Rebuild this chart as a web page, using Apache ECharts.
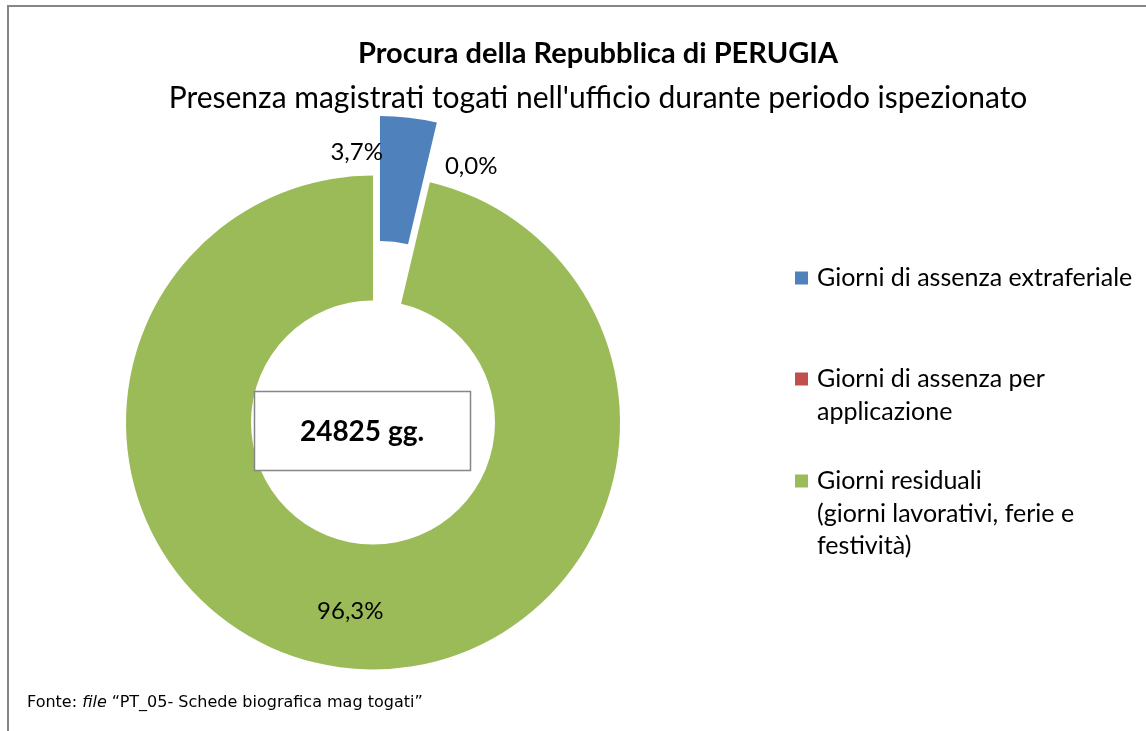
<!DOCTYPE html>
<html>
<head>
<meta charset="utf-8">
<title>Procura della Repubblica di PERUGIA</title>
<script src="https://cdn.jsdelivr.net/npm/echarts@6/dist/echarts.min.js"></script>
<style>
  html, body { margin: 0; padding: 0; background: #fff; }
  #chart { width: 1146px; height: 731px; }
</style>
</head>
<body>
<div id="chart"></div>
<script>
  // dati (giorni)
  const categories = [
    'Giorni di assenza extraferiale',
    'Giorni di assenza per\napplicazione',
    'Giorni residuali\n(giorni lavorativi, ferie e\nfestività)'
  ];
  const days = [918, 0, 23907];
  const colors = ['#4F81BD', '#C0504D', '#9BBB59'];
  const exploded = [true, false, false];
  const titleText = 'Procura della Repubblica di PERUGIA';
  const subtitleText = "Presenza magistrati togati nell'ufficio durante periodo ispezionato";

  const FONT = 'Lato, "Open Sans", sans-serif';
  const totalDays = days.reduce((a, b) => a + b, 0);

  // posizione etichette percentuali (spostamento rispetto al centro fetta)
  const labelOffsets = [[-45, -24], [55, -74], [-1, 3]];
  // legenda: centro verticale dell'icona di ogni voce
  const legendIconY = [278, 379, 481];
  const LH = 32.5;

  let chart = echarts.init(document.getElementById('chart'));

  // una legenda per voce, così l'icona resta sulla prima riga del testo
  let legends = categories.map((name, i) => {
    let n = name.split('\n').length;
    let blockH = (2 * n - 1) * LH;
    return {
      data: [name],
      orient: 'vertical',
      left: 795,
      top: legendIconY[i] - blockH / 2,
      padding: 0,
      icon: 'path://M0,0H1V1H0Z',
      itemWidth: 21,
      itemHeight: 13,
      selectedMode: false,
      formatter: nm => '\n'.repeat(n - 1) + nm,
      textStyle: {
        fontFamily: FONT,
        fontSize: 25,
        color: '#000',
        lineHeight: LH
      }
    };
  });

  chart.setOption({
    animation: false,
    backgroundColor: '#fff',
    title: {
      text: titleText,
      subtext: subtitleText,
      left: 598,
      top: 38,
      textAlign: 'center',
      itemGap: 12,
      padding: 0,
      textStyle: { fontFamily: FONT, fontSize: 29, fontWeight: 'bold', color: '#000', lineHeight: 32 },
      subtextStyle: { fontFamily: FONT, fontSize: 30, color: '#000', lineHeight: 32 }
    },
    legend: legends,
    series: [{
      type: 'pie',
      center: [373, 422.5],
      radius: [122, 247],
      startAngle: 90,
      clockwise: true,
      selectedMode: 'multiple',
      selectedOffset: 60,
      avoidLabelOverlap: false,
      emphasis: { disabled: true },
      label: {
        show: true,
        position: 'inside',
        fontFamily: FONT,
        fontSize: 24,
        color: '#000',
        formatter: p => p.percent.toFixed(1).replace('.', ',') + '%'
      },
      labelLine: { show: false },
      data: categories.map((name, i) => ({
        name: name,
        value: days[i],
        selected: exploded[i],
        itemStyle: { color: colors[i] },
        label: { offset: labelOffsets[i] },
        select: { label: { offset: labelOffsets[i] } }
      }))
    }],
    graphic: [
      {
        type: 'polyline',
        z: 0,
        shape: { points: [[8, 731], [8, 6], [1146, 6]] },
        style: { stroke: '#868686', lineWidth: 2, fill: null }
      },
      {
        type: 'rect',
        z: 100,
        shape: { x: 254.5, y: 391.5, width: 216, height: 79 },
        style: { fill: '#fff', stroke: '#868686', lineWidth: 1.5 }
      },
      {
        type: 'text',
        z: 101,
        x: 362,
        y: 432,
        style: {
          text: totalDays + ' gg.',
          font: 'bold 28px ' + FONT,
          fill: '#000',
          align: 'center',
          verticalAlign: 'middle'
        }
      },
      {
        type: 'text',
        z: 101,
        x: 27,
        y: 703,
        style: {
          text: '{a|Fonte: }{i|file}{a| “PT_05- Schede biografica mag togati”}',
          verticalAlign: 'middle',
          rich: {
            a: { fontFamily: '"DejaVu Sans", Verdana, sans-serif', fontSize: 16, fill: '#000' },
            i: { fontFamily: '"DejaVu Sans", Verdana, sans-serif', fontSize: 16, fontStyle: 'italic', fill: '#000' }
          }
        }
      }
    ]
  });
</script>
</body>
</html>
